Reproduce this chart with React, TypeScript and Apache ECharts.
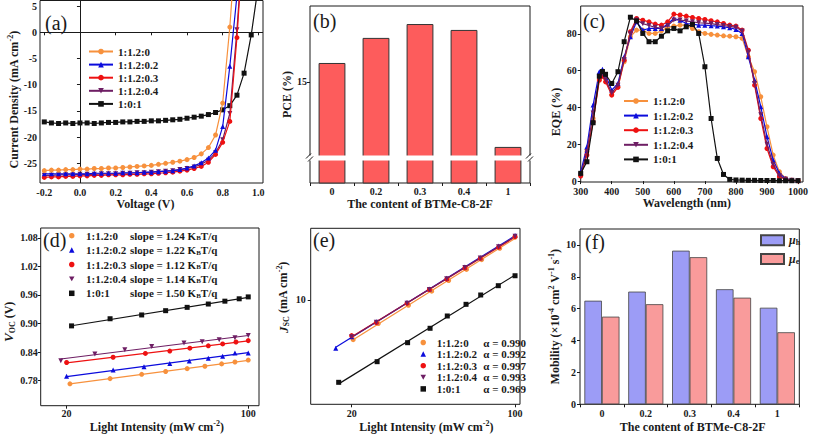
import { useEffect, useRef } from "react";
import * as echarts from "echarts";

const SERIF = '"Liberation Serif", "Times New Roman", serif';
const INK = "#1a1a1a";

// ---------- shared series identity ----------
const blendLabels = ["1:1.2:0", "1:1.2:0.2", "1:1.2:0.3", "1:1.2:0.4", "1:0:1"];
const blendColors = ["#f7913d", "#0b0bdc", "#ee1111", "#6e1e64", "#111111"];
const blendSymbols = ["circle", "triangle", "circle", "triangle", "rect"];
const blendRotate = [0, 0, 0, 180, 0];

// ---------- (a) J-V ----------
const jvVoltage = [-0.2, -0.16, -0.12, -0.08, -0.04, 0, 0.04, 0.08, 0.12, 0.16, 0.2, 0.24, 0.28, 0.32, 0.36, 0.4, 0.44, 0.48, 0.52, 0.56, 0.6, 0.64, 0.68, 0.72, 0.76, 0.8, 0.84, 0.88, 0.92, 0.96, 1.0];
const jv120 = [-26.4, -26.3, -26.3, -26.2, -26.2, -26.1, -26.1, -26.0, -26.0, -25.9, -25.9, -25.8, -25.7, -25.6, -25.5, -25.4, -25.2, -25.0, -24.8, -24.6, -24.3, -23.9, -23.2, -22.0, -19.6, -13.5, 1.0, 20];
const jv1202 = [-27.0, -27.0, -27.0, -27.0, -27.0, -27.0, -27.0, -26.9, -26.9, -26.9, -26.9, -26.8, -26.8, -26.8, -26.7, -26.7, -26.6, -26.5, -26.4, -26.2, -25.9, -25.5, -24.9, -24.0, -22.5, -18.0, -6.5, 7.0, 25];
const jv1203 = [-27.7, -27.6, -27.6, -27.5, -27.5, -27.4, -27.4, -27.3, -27.3, -27.2, -27.2, -27.2, -27.1, -27.1, -27.0, -27.0, -26.9, -26.8, -26.7, -26.5, -26.3, -26.0, -25.6, -24.8, -23.3, -21.0, -17.0, -1.0, 20];
const jv1204 = [-27.3, -27.3, -27.2, -27.2, -27.2, -27.1, -27.1, -27.1, -27.0, -27.0, -27.0, -26.9, -26.9, -26.8, -26.8, -26.7, -26.6, -26.5, -26.4, -26.2, -26.0, -25.7, -25.2, -24.4, -23.0, -20.5, -15.5, 0.5, 20];
const jv101 = [-17.1, -17.3, -17.4, -17.3, -17.4, -17.3, -17.3, -17.4, -17.3, -17.2, -17.2, -17.1, -17.1, -17.0, -17.0, -16.9, -16.9, -16.8, -16.7, -16.6, -16.4, -16.2, -16.0, -15.7, -15.3, -14.8, -14.0, -12.0, -7.8, -0.5, 9.0];
const jvCurves = [jv120, jv1202, jv1203, jv1204, jv101];

// ---------- (b) PCE ----------
const contentCats = ["0", "0.2", "0.3", "0.4", "1"];
const pceValues = [16.0, 17.32, 18.05, 17.74, 11.58];

// ---------- (c) EQE ----------
const eqeWavelength = [300, 320, 340, 360, 370, 380, 400, 420, 440, 460, 480, 500, 520, 540, 560, 580, 600, 620, 640, 660, 680, 700, 720, 740, 760, 780, 800, 820, 840, 860, 880, 900, 920, 940, 960, 980, 1000];
const eqe120 = [3.3, 16, 34, 54.9, 57, 55.8, 47, 51.2, 64.8, 78.4, 82, 82, 80.2, 80.2, 81.6, 83.5, 84.2, 84.7, 84.7, 82.9, 81.1, 80.2, 79.7, 79.3, 78.9, 78.7, 78.4, 77.5, 67.5, 59.4, 45.8, 29.5, 14.1, 5.1, 1.4, 0.5, 0.3];
const eqe1202 = [5, 18.6, 41.3, 59.4, 60.8, 57.6, 49.4, 53, 67.5, 78.4, 86.5, 82, 82.9, 82.9, 82.9, 85.3, 88.3, 87.4, 85.6, 85.3, 84.7, 84.7, 84.4, 84.2, 83.8, 83.3, 82.4, 80.2, 67.5, 54.9, 40.4, 24.1, 11.4, 4.2, 1.4, 0.5, 0.3];
const eqe1203 = [2.7, 14.1, 32.2, 54.9, 57, 53.9, 46.7, 50.9, 65.7, 81.1, 88.3, 87.4, 86.5, 85.3, 84.7, 86.5, 90.7, 90.2, 89.6, 88.9, 88.3, 87.8, 87.1, 86.5, 85.6, 84.7, 84.2, 82, 71.1, 52.1, 34, 17.7, 7.8, 2.4, 0.9, 0.4, 0.2];
const eqe1204 = [3.5, 16, 37, 56.5, 58.5, 55, 48, 52, 66, 80, 87.5, 85.5, 84.5, 83.5, 83, 84.5, 87.5, 87.5, 87, 86.5, 86, 85.8, 85.5, 85, 84.5, 84, 83.5, 81.5, 70, 53, 36, 20, 9, 3, 1, 0.4, 0.2];
const eqe101 = [4.2, 10.5, 31.7, 57, 59.5, 58, 53, 59.4, 75.7, 89, 87, 80.2, 75.7, 75.7, 78.7, 81.6, 82.9, 81.6, 83.8, 85.1, 80.2, 62.1, 34, 12.3, 3.6, 0.9, 0.6, 0.5, 0.4, 0.4, 0.3, 0.3, 0.3, 0.2, 0.2, 0.2, 0.2];
const eqeCurves = [eqe120, eqe1202, eqe1203, eqe1204, eqe101];

// ---------- (d) Voc vs light intensity ----------
const vocI120 = [20.6, 29.4, 38.9, 48.1, 58.2, 68.1, 79, 88.9, 100];
const vocV120 = [0.773, 0.784, 0.793, 0.799, 0.805, 0.810, 0.815, 0.819, 0.823];
const vocI1202 = [20, 30.2, 39.7, 49.9, 59.3, 70.2, 79.7, 88.9, 100];
const vocV1202 = [0.789, 0.802, 0.809, 0.816, 0.821, 0.827, 0.831, 0.838, 0.838];
const vocI1203 = [20, 30.2, 40.2, 49.9, 59.6, 70.2, 79.7, 89.7, 100];
const vocV1203 = [0.818, 0.829, 0.837, 0.842, 0.848, 0.853, 0.857, 0.861, 0.864];
const vocI1204 = [19.0, 25.7, 33.5, 42.5, 56.6, 66.5, 77.3, 88.9, 100];
const vocV1204 = [0.8215, 0.8356, 0.8447, 0.8517, 0.8587, 0.8615, 0.8657, 0.870, 0.8749];
const vocI101 = [20.9, 29.4, 38.9, 48.1, 58.2, 70.2, 81.3, 92.3, 100];
const vocV101 = [0.895, 0.910, 0.918, 0.927, 0.934, 0.941, 0.947, 0.952, 0.956];
const vocSets = [[vocI120, vocV120], [vocI1202, vocV1202], [vocI1203, vocV1203], [vocI1204, vocV1204], [vocI101, vocV101]];
const vocSlopes = ["1.24", "1.22", "1.12", "1.14", "1.50"];

// ---------- (e) Jsc vs light intensity ----------
const jscI120 = [20.3, 26, 35, 44, 52, 62, 72, 86, 100];
const jscJ120 = [5.35, 6.9, 9.2, 11.5, 13.6, 16.2, 18.9, 22.6, 26.9];
const jscI1202 = [17.1, 20, 25.5, 34.5, 43, 51, 61, 71, 85, 100];
const jscJ1202 = [4.67, 5.6, 7.1, 9.6, 11.9, 14.1, 16.8, 19.5, 23.4, 27.6];
const jscI1203 = [20, 25.5, 34.5, 43, 51, 61, 71, 85, 100];
const jscJ1203 = [5.7, 7.0, 9.5, 11.8, 13.9, 16.6, 19.3, 23.0, 27.2];
const jscI1204 = [20, 25.5, 34.5, 43, 51, 61, 71, 85, 100];
const jscJ1204 = [5.6, 7.05, 9.5, 11.8, 14.0, 16.7, 19.4, 23.2, 27.3];
const jscI101 = [17.6, 25.7, 34.7, 43.3, 51.3, 61.7, 71.3, 84.8, 100];
const jscJ101 = [2.73, 3.78, 5.10, 6.40, 7.77, 9.34, 10.82, 12.53, 14.66];
const jscSets = [[jscI120, jscJ120], [jscI1202, jscJ1202], [jscI1203, jscJ1203], [jscI1204, jscJ1204], [jscI101, jscJ101]];
const jscAlphas = ["0.990", "0.992", "0.997", "0.993", "0.969"];

// ---------- (f) mobility ----------
const mobilityNames = ["h", "e"];
const mobilityHole = [6.5, 7.07, 9.64, 7.22, 6.06];
const mobilityElectron = [5.5, 6.28, 9.23, 6.69, 4.52];

// ---------- helpers ----------
const lg = (v: number) => Math.log10(v);
const INV_TRI = "path://M0,0L10,0L5,9Z";

function linFit(xs: number[], ys: number[]) {
  const n = xs.length;
  const mx = xs.reduce((s, v) => s + v, 0) / n;
  const my = ys.reduce((s, v) => s + v, 0) / n;
  let sxy = 0, sxx = 0;
  for (let i = 0; i < n; i++) {
    sxy += (xs[i] - mx) * (ys[i] - my);
    sxx += (xs[i] - mx) * (xs[i] - mx);
  }
  const b = sxy / sxx;
  return { a: my - b * mx, b };
}

const tickLabel = { fontFamily: SERIF, fontWeight: "bold", fontSize: 10, color: INK };
const rt = (size: number, extra: any = {}) => ({ fontFamily: SERIF, fontWeight: "bold", fontSize: size, color: INK, ...extra });
const nameRich = {
  t: rt(12, { lineHeight: 15 }),
  i: rt(13, { fontStyle: "italic", lineHeight: 15 }),
  p: rt(8, { lineHeight: 8, verticalAlign: "top" }),
  s: rt(8, { lineHeight: 6, verticalAlign: "bottom" }),
};

function axisBase(gridIndex: number, extra: any) {
  const { axisLabel, axisTick, namePadding, ...rest } = extra;
  return {
    gridIndex,
    nameLocation: "middle",
    nameTextStyle: { ...rt(12), rich: nameRich, padding: namePadding || 0 },
    axisLine: { show: false },
    splitLine: { show: false },
    ...rest,
    axisLabel: { ...tickLabel, margin: 4, ...(axisLabel || {}) },
    axisTick: { show: true, inside: false, length: 3, lineStyle: { color: INK, width: 1 }, ...(axisTick || {}) },
  };
}

function customAxis(gridIndex: number, values: number[], fmt: (v: number) => string, extra: any) {
  return axisBase(gridIndex, {
    type: "value",
    ...extra,
    axisLabel: { customValues: values, formatter: fmt, ...(extra.axisLabel || {}) },
    axisTick: { customValues: values },
  });
}

function buildOption() {
  const grids = [
    { left: 40, top: 0.5, width: 223, height: 182.5 },
    { left: 310, top: 6, width: 220, height: 177 },
    { left: 580.7, top: 6, width: 222.3, height: 176 },
    { left: 40.7, top: 228, width: 218.3, height: 177.7 },
    { left: 310.7, top: 228.3, width: 209.3, height: 176 },
    { left: 580, top: 229, width: 219.3, height: 175.3 },
  ].map((g) => ({ ...g, show: true, borderColor: INK, borderWidth: 1, backgroundColor: "transparent" }));

  const xAxis = [
    customAxis(0, [-0.2, 0, 0.2, 0.4, 0.6, 0.8, 1.0], (v) => v.toFixed(1), {
      min: -0.224, max: 1.026, name: "Voltage (V)", nameGap: 14, namePadding: [0, 12, 0, 0],
    }),
    axisBase(1, {
      type: "category", data: contentCats, name: "The content of BTMe-C8-2F", nameGap: 15,
      axisLabel: { margin: 3 },
    }),
    axisBase(2, {
      type: "value", min: 300, max: 1016, interval: 100, name: "Wavelength (nm)", nameGap: 13.5,
      namePadding: [0, 10, 0, 0],
      axisLabel: { margin: 4, showMaxLabel: false, formatter: (v: number) => String(v) },
    }),
    customAxis(3, [lg(20), 2], (v) => String(Math.round(Math.pow(10, v))), {
      min: lg(15.9), max: lg(110), name: "{t|Light Intensity (mW cm}{p|-2}{t|)}", nameGap: 13,
      namePadding: [0, 0, 0, 14],
      axisLabel: { margin: 3 },
    }),
    customAxis(4, [lg(20), 2], (v) => String(Math.round(Math.pow(10, v))), {
      min: lg(13.36), max: lg(105), name: "{t|Light Intensity (mW cm}{p|-2}{t|)}", nameGap: 14,
      namePadding: [0, 0, 0, 22],
    }),
    axisBase(5, {
      type: "category", data: contentCats, name: "The content of BTMe-C8-2F", nameGap: 17,
      namePadding: [0, 0, 0, 6],
    }),
  ];

  const yAxis = [
    customAxis(0, [-25, -20, -15, -10, -5, 0, 5], (v) => String(v), {
      min: -28.76, max: 6.07, name: "{t|Current Density (mA cm}{p|-2}{t|)}", nameGap: 17,
      namePadding: [0, 16, 0, 0],
      axisLabel: { margin: 3 },
    }),
    customAxis(1, [15], (v) => String(v), {
      min: 9.68, max: 19.0, name: "PCE (%)", nameGap: 16, axisLabel: { margin: 3 },
    }),
    customAxis(2, [0, 20, 40, 60, 80], (v) => String(v), {
      min: -0.5, max: 95.1, name: "EQE (%)", nameGap: 19, namePadding: [0, 36, 0, 0],
    }),
    customAxis(3, [0.78, 0.84, 0.9, 0.96, 1.02, 1.08], (v) => v.toFixed(2), {
      min: 0.727, max: 1.101, name: "{i|V}{s|OC}{t| (V)}", nameGap: 24, axisLabel: { margin: 3 },
      namePadding: [0, 10, 0, 0],
    }),
    customAxis(4, [1], (v) => String(Math.round(Math.pow(10, v))), {
      min: 0.2856, max: 1.491, name: "{i|J}{s|SC}{t| (mA cm}{p|-2}{t|)}", nameGap: 20, axisLabel: { margin: 5 },
      namePadding: [0, 0, 0, 38],
    }),
    axisBase(5, {
      type: "value", min: 0, max: 11, interval: 2,
      name: "{t|Mobility (×10}{p|-4}{t| cm}{p|2}{t| V}{p|-1}{t| s}{p|-1}{t|)}", nameGap: 18,
      axisLabel: { showMaxLabel: false },
    }),
  ];

  const series: any[] = [];

  const markerStyle = (k: number) => ({
    symbol: blendSymbols[k],
    symbolRotate: blendRotate[k],
    itemStyle: { color: blendColors[k], borderWidth: 0 },
    lineStyle: { color: blendColors[k], width: 1.2 },
  });

  // (a)
  jvCurves.forEach((curve, k) => {
    const s: any = {
      type: "line",
      name: "a|" + blendLabels[k],
      xAxisIndex: 0, yAxisIndex: 0,
      data: curve.map((j, i) => [jvVoltage[i], j]),
      symbolSize: 5,
      ...markerStyle(k),
      z: 3 + (4 - k),
    };
    if (k === 0) {
      s.markLine = {
        silent: true, symbol: "none", label: { show: false }, animation: false,
        lineStyle: { color: INK, width: 1, type: "solid" },
        data: [{ xAxis: 0 }, { yAxis: 0 }],
      };
    }
    series.push(s);
  });

  // (b)
  series.push({
    type: "bar", name: "pce", xAxisIndex: 1, yAxisIndex: 1, data: pceValues,
    barCategoryGap: "39%",
    itemStyle: { color: "#fd5c5c", borderColor: "#333", borderWidth: 1 },
  });

  // (c)
  eqeCurves.forEach((curve, k) => {
    series.push({
      type: "line", name: "c|" + blendLabels[k], xAxisIndex: 2, yAxisIndex: 2,
      data: curve.map((v, i) => [eqeWavelength[i], v]),
      symbolSize: 5, ...markerStyle(k), z: 3 + k,
    });
  });

  // (d)
  vocSets.forEach(([xs, ys], k) => {
    const lx = xs.map(lg);
    const f = linFit(lx, ys);
    const x0 = Math.min(...lx), x1 = Math.max(...lx);
    series.push({
      type: "line", name: "dfit" + k, xAxisIndex: 3, yAxisIndex: 3,
      data: [[x0, f.a + f.b * x0], [x1, f.a + f.b * x1]],
      showSymbol: false, symbol: "none", lineStyle: { color: blendColors[k], width: 1.2 }, z: 2,
    });
    series.push({
      type: "scatter", name: "d|" + blendLabels[k], xAxisIndex: 3, yAxisIndex: 3,
      data: lx.map((x, i) => [x, ys[i]]), symbolSize: 5,
      symbol: blendSymbols[k], symbolRotate: blendRotate[k],
      itemStyle: { color: blendColors[k], opacity: 1 }, z: 3,
    });
  });

  // (e)
  jscSets.forEach(([xs, ys], k) => {
    const lx = xs.map(lg);
    const ly = ys.map(lg);
    const f = linFit(lx, ly);
    const x0 = Math.min(...lx), x1 = Math.max(...lx);
    series.push({
      type: "line", name: "efit" + k, xAxisIndex: 4, yAxisIndex: 4,
      data: [[x0, f.a + f.b * x0], [x1, f.a + f.b * x1]],
      showSymbol: false, symbol: "none", lineStyle: { color: blendColors[k], width: 1.2 }, z: 2,
    });
    series.push({
      type: "scatter", name: "e|" + blendLabels[k], xAxisIndex: 4, yAxisIndex: 4,
      data: lx.map((x, i) => [x, ly[i]]), symbolSize: 5,
      symbol: blendSymbols[k], symbolRotate: blendRotate[k],
      itemStyle: { color: blendColors[k], opacity: 1 }, z: 3,
    });
  });

  // (f)
  series.push({
    type: "bar", name: "f|" + mobilityNames[0], xAxisIndex: 5, yAxisIndex: 5, data: mobilityHole,
    barGap: "0%", barCategoryGap: "20%",
    itemStyle: { color: "#9c9cf6", borderColor: "#444", borderWidth: 0.8 },
  });
  series.push({
    type: "bar", name: "f|" + mobilityNames[1], xAxisIndex: 5, yAxisIndex: 5, data: mobilityElectron,
    barGap: "0%", barCategoryGap: "20%",
    itemStyle: { color: "#f99b9b", borderColor: "#444", borderWidth: 0.8 },
  });

  const legendText = { ...rt(11), lineHeight: 12 };
  const strip = (n: string) => n.slice(2);
  const markerLegendData = (prefix: string) =>
    blendLabels.map((l, k) => (blendRotate[k] ? { name: prefix + l, icon: INV_TRI } : prefix + l));

  const legend = [
    {
      orient: "vertical", left: 88, top: 45.5, padding: 0, itemWidth: 24, itemHeight: 7, itemGap: 1.1,
      selectedMode: false, data: blendLabels.map((l) => "a|" + l), formatter: strip, textStyle: legendText,
    },
    {
      orient: "vertical", left: 623, top: 95, padding: 0, itemWidth: 24, itemHeight: 7, itemGap: 2.6,
      selectedMode: false, data: blendLabels.map((l) => "c|" + l), formatter: strip, textStyle: legendText,
    },
    {
      orient: "vertical", left: 69, top: 229.7, padding: 0, itemWidth: 5.5, itemHeight: 5.5, itemGap: 2.4,
      selectedMode: false, data: markerLegendData("d|"),
      formatter: (n: string) => {
        const k = blendLabels.indexOf(strip(n));
        return `{g| }{n|${strip(n)}}{t|slope = ${vocSlopes[k]} K}{s|B}{t|T/q}`;
      },
      textStyle: {
        ...legendText,
        rich: {
          g: rt(11, { width: 6.5, lineHeight: 12 }),
          n: rt(11, { width: 44, lineHeight: 12 }),
          t: rt(11, { lineHeight: 12 }),
          s: rt(7, { lineHeight: 5, verticalAlign: "bottom" }),
        },
      },
    },
    {
      orient: "vertical", left: 420.5, top: 337, padding: 0, itemWidth: 5.5, itemHeight: 5.5, itemGap: 0.6,
      selectedMode: false, data: markerLegendData("e|"),
      formatter: (n: string) => {
        const k = blendLabels.indexOf(strip(n));
        return `{g| }{n|${strip(n)}}{t|α = ${jscAlphas[k]}}`;
      },
      textStyle: {
        ...legendText, lineHeight: 11,
        rich: {
          g: rt(11, { width: 5.7, lineHeight: 11 }),
          n: rt(11, { width: 46.6, lineHeight: 11 }),
          t: rt(11, { lineHeight: 11 }),
        },
      },
    },
    {
      orient: "vertical", left: 760, top: 234.3, padding: 0, itemWidth: 23, itemHeight: 10, itemGap: 6.7,
      selectedMode: false, icon: "rect", data: mobilityNames.map((l) => "f|" + l),
      formatter: (n: string) => `{m|μ}{s|${strip(n)}}`,
      textStyle: {
        ...legendText,
        rich: {
          m: rt(12, { fontStyle: "italic", lineHeight: 12 }),
          s: rt(8, { lineHeight: 6, verticalAlign: "bottom" }),
        },
      },
    },
  ];

  const panelLabel = (text: string, x: number, y: number) => ({
    type: "text", x, y, z: 100,
    style: { text, fontFamily: SERIF, fontSize: 20, fill: INK, verticalAlign: "middle" },
  });
  const slash = (x1: number, y1: number, x2: number, y2: number) => ({
    type: "line", z: 101, shape: { x1, y1, x2, y2 }, style: { stroke: INK, lineWidth: 1 },
  });

  const graphic = [
    panelLabel("(a)", 45, 23),
    panelLabel("(b)", 313, 21),
    panelLabel("(c)", 583, 21),
    panelLabel("(d)", 43, 240),
    panelLabel("(e)", 313, 240),
    panelLabel("(f)", 585, 242),
    { type: "rect", z: 100, shape: { x: 303, y: 155.5, width: 234, height: 5 }, style: { fill: "#fff" } },
    slash(306, 158.5, 311, 153.5),
    slash(308, 161.5, 313, 156.5),
    slash(526, 158.5, 531, 153.5),
    slash(528, 161.5, 533, 156.5),
  ];

  return {
    animation: false,
    backgroundColor: "#fff",
    textStyle: { fontFamily: SERIF },
    grid: grids,
    xAxis,
    yAxis,
    legend,
    series,
    graphic,
  };
}

export default function App() {
  const ref = useRef<HTMLDivElement>(null);
  useEffect(() => {
    const chart = echarts.init(ref.current!, undefined, { renderer: "svg" });
    chart.setOption(buildOption() as any);
    return () => chart.dispose();
  }, []);
  return (
    <div
      ref={ref}
      style={{ position: "fixed", left: 0, top: 0, width: 813, height: 439, background: "#fff" }}
    />
  );
}
